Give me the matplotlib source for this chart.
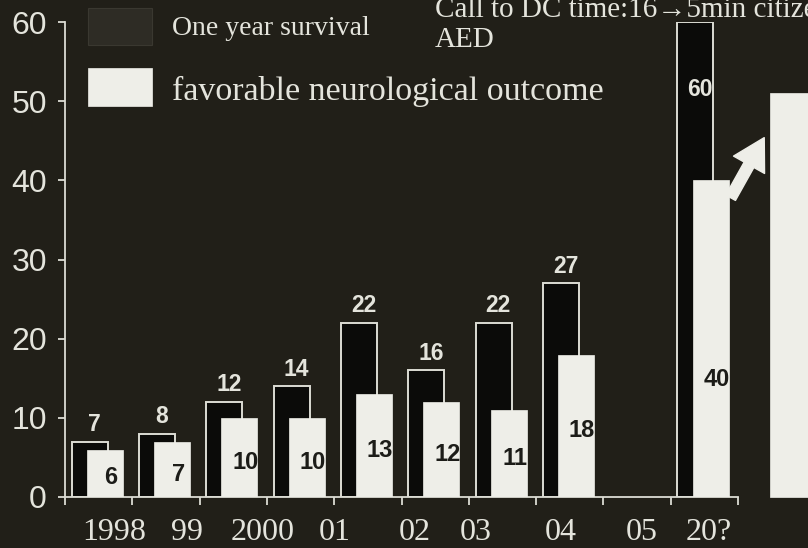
import numpy as np
import matplotlib
matplotlib.use("Agg")
import matplotlib.pyplot as plt
from matplotlib.patches import Rectangle, FancyArrowPatch

# ---- data ----
year_labels = ["1998", "99", "2000", "01", "02", "03", "04", "05", "20?"]
slot_index = [0, 1, 2, 3, 4, 5, 6, 7, 9]          # category slot of each group
one_year_survival = [7, 8, 12, 14, 22, 16, 22, 27, 60]
favorable_outcome = [6, 7, 10, 10, 13, 12, 11, 18, 40]
projected_favorable = 51                          # target bar beyond the axis
y_ticks = [0, 10, 20, 30, 40, 50, 60]

# ---- layout / style ----
label_x = [0.73, 1.81, 2.93, 4.01, 5.19, 6.11, 7.36, 8.57, 9.57]
BG = "#211f18"
BAR_DARK = "#0b0b09"
WHITE = "#eeeee8"
TEXT = "#e4e4dc"
LINE = "#dcdcd4"

W, H = 808, 548
fig = plt.figure(figsize=(W / 100, H / 100), dpi=100, facecolor=BG)
ax = fig.add_axes([65 / W, 1 - 497 / H, (738 - 65) / W, (497 - 22) / H])
ax.set_facecolor(BG)
ax.set_xlim(0, 10)
ax.set_ylim(0, 60)

sans = "Liberation Sans"
serif = "Liberation Serif"

slots = np.array(slot_index, dtype=float)
surv_bars = ax.bar(slots + 0.10, one_year_survival, width=0.535, align="edge",
                   color=BAR_DARK, edgecolor=LINE, linewidth=1.4, zorder=2)
fav_bars = ax.bar(slots + 0.325, favorable_outcome, width=0.535, align="edge",
                  color=WHITE, edgecolor=WHITE, linewidth=0.5, zorder=3)

# projected bar to the right of the axis
ax.bar([10.48], [projected_favorable], width=0.8, align="edge",
       color=WHITE, edgecolor=WHITE, linewidth=0.5, zorder=3, clip_on=False)

# value labels for survival bars
for bar, v in zip(surv_bars, one_year_survival):
    cx = bar.get_x() + bar.get_width() / 2 + 0.07
    if v >= 50:
        ax.text(cx, v - 8.5, str(v), ha="center", va="center", color=TEXT,
                fontsize=16.5, fontweight="bold", family=sans, zorder=5)
    else:
        ax.annotate(str(v), (cx, v), xytext=(0, 4), textcoords="offset points",
                    ha="center", va="bottom", color=TEXT, fontsize=16.5,
                    fontweight="bold", family=sans, zorder=5)

# value labels inside favorable-outcome bars, clipped to the bar
for bar, v in zip(fav_bars, favorable_outcome):
    cx = bar.get_x() + bar.get_width() / 2 + 0.09
    cy = min(v / 2 - 0.6, 14.8)
    t = ax.text(cx, cy, str(v), ha="center", va="center", color="#1c1c18",
                fontsize=17, fontweight="bold", family=sans, zorder=6)
    t.set_clip_path(bar)

# arrow toward the projected bar
arrow = FancyArrowPatch((9.87, 37.5), (10.41, 45.7),
                        arrowstyle="simple,head_width=1.6,head_length=1.4,tail_width=0.5",
                        mutation_scale=16, color=WHITE, zorder=6, clip_on=False)
ax.add_patch(arrow)

# axes styling
for s in ("top", "right"):
    ax.spines[s].set_visible(False)
for s in ("left", "bottom"):
    ax.spines[s].set_color(LINE)
    ax.spines[s].set_linewidth(1.3)
ax.set_yticks(y_ticks)
ax.set_yticklabels([str(t) for t in y_ticks])
ax.set_xticks(np.arange(0, 11))
ax.set_xticklabels([])
ax.tick_params(axis="y", direction="out", length=5, width=1.3, color=LINE,
               labelcolor=TEXT, labelsize=23, pad=8)
ax.tick_params(axis="x", direction="out", length=6, width=1.3, color=LINE)
for lab in ax.get_yticklabels():
    lab.set_family(sans)

# category labels below the axis
for x, lab in zip(label_x, year_labels):
    ax.text(x, -4.5, lab, ha="center", va="center", color=TEXT,
            fontsize=23, family=serif, clip_on=False)

# legend
fig.add_artist(Rectangle((88 / W, 1 - 45 / H), 64 / W, 37 / H,
                         transform=fig.transFigure, facecolor="#2e2c25",
                         edgecolor="#3a3830", linewidth=0.8))
fig.add_artist(Rectangle((88 / W, 1 - 106 / H), 64 / W, 38 / H,
                         transform=fig.transFigure, facecolor=WHITE,
                         edgecolor=WHITE, linewidth=0.5))
fig.text(172 / W, 1 - 35 / H, "One year survival", ha="left", va="baseline",
         color=TEXT, fontsize=20, family=serif)
fig.text(172 / W, 1 - 100 / H, "favorable neurological outcome", ha="left",
         va="baseline", color=TEXT, fontsize=24.5, family=serif)

# note at the top
fig.text(435 / W, 1 - 17 / H, "Call to DC time:16→5min citizen",
         ha="left", va="baseline", color=TEXT, fontsize=21,
         family=[serif, "DejaVu Serif"])
fig.text(435 / W, 1 - 47 / H, "AED", ha="left", va="baseline",
         color=TEXT, fontsize=21, family=serif)

fig.savefig("out.png", dpi=100, facecolor=BG)
